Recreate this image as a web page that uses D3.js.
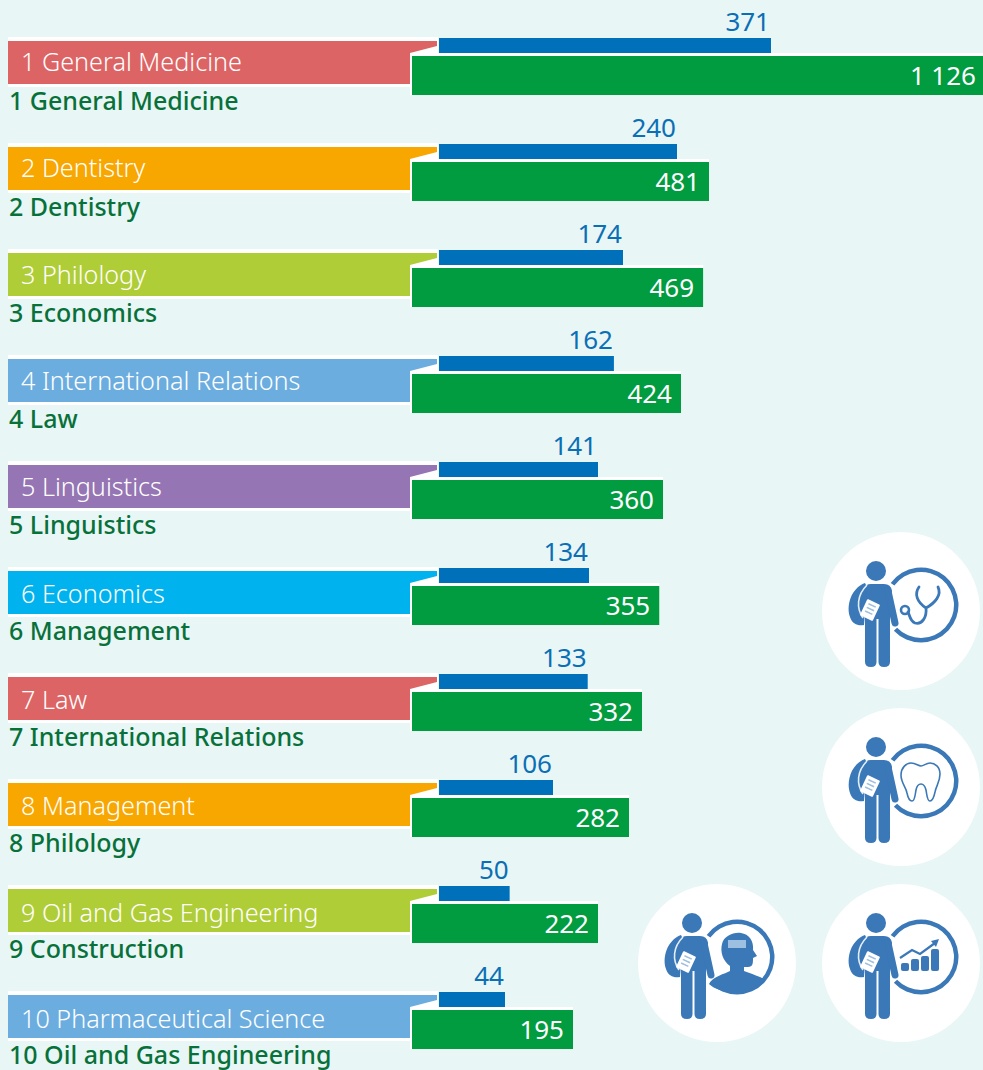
<!DOCTYPE html>
<html>
<head>
<meta charset="utf-8">
<script src="https://cdn.jsdelivr.net/npm/d3@7"></script>
<style>
  html, body { margin: 0; padding: 0; background: #e9f6f6; overflow: hidden; }
  text { font-family: "Noto Sans", sans-serif; }
</style>
</head>
<body>
<div id="chart"></div>
<script>
const width = 983, height = 1070;

// chart data
const ranks = [1, 2, 3, 4, 5, 6, 7, 8, 9, 10];
const bannerFields = ["General Medicine", "Dentistry", "Philology", "International Relations", "Linguistics",
    "Economics", "Law", "Management", "Oil and Gas Engineering", "Pharmaceutical Science"];
const greenFields = ["General Medicine", "Dentistry", "Economics", "Law", "Linguistics",
    "Management", "International Relations", "Philology", "Construction", "Oil and Gas Engineering"];
const blueValues = [371, 240, 174, 162, 141, 134, 133, 106, 50, 44];
const greenValues = [1126, 481, 469, 424, 360, 355, 332, 282, 222, 195];
const bannerPalette = ["#dd6464", "#f8a600", "#afcd36", "#6cade0", "#9575b3", "#00b3ee"];

const svg = d3.select("#chart").append("svg")
    .attr("width", width)
    .attr("height", height)
    .style("display", "block");

svg.append("rect").attr("width", width).attr("height", height).attr("fill", "#e9f6f6");

// the bars in the original are not to a single linear scale, so both scales have knots
const xBlue = d3.scaleLinear()
    .domain([44, 106, 141, 174, 240, 371])
    .range([505, 553, 598, 623, 677, 771]);
const xGreen = d3.scaleLinear()
    .domain([195, 222, 282, 332, 360, 424, 481, 1126])
    .range([573, 598, 629, 642, 663, 681, 709, 985]);
const yRow = d3.scalePoint().domain(ranks).range([41, 995]);
// banner text sits on a slightly wider pitch than the bars
const yBannerText = d3.scalePoint().domain(ranks).range([30, 33]);
const color = d3.scaleOrdinal().domain(ranks).range(bannerPalette);

const spaced = d3.formatLocale({ thousands: "\u2005", grouping: [3], decimal: ".", currency: ["", ""] }).format(",");

const defs = svg.append("defs");
defs.append("filter").attr("id", "soft")
    .append("feGaussianBlur").attr("stdDeviation", 0.6);

const rows = svg.selectAll("g.row")
    .data(ranks.map((r, i) => ({
        rank: r, banner: bannerFields[i], green: greenFields[i], blue: blueValues[i], greenValue: greenValues[i]
    })))
    .enter().append("g")
    .attr("class", "row")
    .attr("transform", d => `translate(0,${yRow(d.rank)})`);

// white backing behind banner and green bar
rows.append("path")
    .attr("fill", "#fff")
    .attr("d", d => `M8,-4H438V12H${Math.min(xGreen(d.greenValue), width)}V15H412V54H410V46H8Z`);

rows.append("path")
    .attr("fill", d => color(d.rank))
    .attr("d", "M8,0H437V5L410,12V43H8Z");

rows.append("rect")
    .attr("x", 439).attr("y", -3)
    .attr("width", d => xBlue(d.blue) - 439).attr("height", 15)
    .attr("fill", "#0070bb");

rows.append("rect")
    .attr("x", 412).attr("y", 15)
    .attr("width", d => xGreen(d.greenValue) - 412).attr("height", 39)
    .attr("fill", "#009c3f");

rows.append("text")
    .attr("x", 21).attr("y", d => yBannerText(d.rank))
    .attr("fill", "#fff")
    .style("font-size", "25.2px")
    .style("font-weight", 300)
    .text(d => `${d.rank} ${d.banner}`);

rows.append("text")
    .attr("x", 9).attr("y", 69)
    .attr("fill", "#08713a")
    .style("font-size", "25px")
    .style("font-weight", 500)
    .text(d => `${d.rank} ${d.green}`);

rows.append("text")
    .attr("x", d => xBlue(d.blue) - 1).attr("y", -10)
    .attr("text-anchor", "end")
    .attr("fill", "#0a6fb5")
    .style("font-size", "26px")
    .text(d => d.blue);

rows.append("text")
    .attr("x", d => xGreen(d.greenValue) - 9).attr("y", 44)
    .attr("text-anchor", "end")
    .attr("fill", "#fff")
    .style("font-size", "26px")
    .text(d => spaced(d.greenValue));

// icons
const iconBlue = "#3a78b8";

function drawFigure(g) {
    const f = g.append("g").attr("filter", "url(#soft)");
    f.append("circle").attr("cx", -25).attr("cy", -40).attr("r", 10).attr("fill", iconBlue);
    f.append("path").attr("fill", iconBlue)
        .attr("d", "M-36,-22Q-36,-27 -30,-27H-17Q-10,-27 -9,-20L-11,8V51Q-11,56 -17,56Q-22.5,56 -22.5,51V8H-24.5V51Q-24.5,56 -30,56Q-36,56 -36,51Z");
    f.append("path").attr("fill", "none").attr("stroke", iconBlue).attr("stroke-width", 7)
        .attr("stroke-linecap", "round").attr("d", "M-13,-20L-6,12");
    // backpack side
    f.append("path").attr("fill", iconBlue)
        .attr("d", "M-36,-28C-50,-23 -55,-5 -51,6C-49,13 -43,15 -37,14L-34,-24Z");
    f.append("path").attr("fill", "none").attr("stroke", "#e4eef7").attr("stroke-width", 1.6)
        .attr("d", "M-34,-26C-44,-16 -45,-3 -38,7");
    // clipboard
    f.append("rect").attr("x", -38).attr("y", -10).attr("width", 14).attr("height", 18).attr("rx", 1)
        .attr("transform", "rotate(25,-31,-1)").attr("fill", "#fff");
    f.append("path").attr("fill", "none").attr("stroke", "#9dbfe0").attr("stroke-width", 1.5)
        .attr("transform", "rotate(25,-31,-1)")
        .attr("d", "M-35,-6H-27M-35,-2H-27M-35,2H-27");
    return f;
}

function drawRing(f) {
    const ring = f.append("g").attr("transform", "translate(20,-6)");
    ring.append("path").attr("fill", iconBlue)
        .attr("d", d3.arc().innerRadius(33).outerRadius(37.5)
            .startAngle(-0.94).endAngle(Math.PI + 0.81));
    return ring;
}

const glyphs = {
    stethoscope(ring) {
        ring.append("path").attr("fill", "none").attr("stroke", iconBlue).attr("stroke-width", 2.8)
            .attr("stroke-linecap", "round")
            .attr("d", "M-2,-18C-7,-11 -4,-3 5,3C14,-2 21,-10 17,-18M5,3C6,12 1,20 -6,18C-11,16 -11,11 -13,7");
        ring.append("circle").attr("cx", -16).attr("cy", 5).attr("r", 4)
            .attr("fill", "none").attr("stroke", iconBlue).attr("stroke-width", 2.6);
    },
    tooth(ring) {
        ring.append("path").attr("fill", "#fff").attr("stroke", iconBlue).attr("stroke-width", 1.6)
            .attr("d", "M-10,-18C-15,-18 -20,-13 -20,-6C-20,2 -15,6 -14,12C-13,17 -12,20 -9,20C-6,20 -6,14 -5,9C-4,4 -2,3 0,3C2,3 4,5 5,9C6,14 6,20 9,20C12,20 13,16 14,11C15,5 19,1 19,-7C19,-14 14,-18 9,-18C5,-18 3,-15 0,-15C-3,-15 -5,-18 -10,-18Z");
    },
    head(ring) {
        ring.append("path").attr("fill", iconBlue)
            .attr("d", "M-28,27C-24,19 -12,17 -7,14L-7,9C-14,4 -17,-5 -15,-13C-13,-21 -4,-25 4,-24C12,-23 17,-16 16,-7L20,-1L16,1C16,6 16,10 11,10L7,10V14C14,17 23,19 28,23C18,37 -16,39 -28,27Z");
        ring.append("rect").attr("x", -9).attr("y", -17).attr("width", 18).attr("height", 8)
            .attr("fill", "#9dbfe0");
    },
    chart(ring) {
        ring.selectAll("rect.b").data([[-20, 8], [-10, 12], [0, 15], [10, 22]]).enter().append("rect")
            .attr("x", d => d[0]).attr("y", d => 14 - d[1])
            .attr("width", 8).attr("height", d => d[1]).attr("rx", 2)
            .attr("fill", iconBlue);
        ring.append("path").attr("fill", "none").attr("stroke", iconBlue).attr("stroke-width", 2.2)
            .attr("d", "M-21,1L-9,-7L-1,-3L14,-14");
        ring.append("path").attr("fill", iconBlue).attr("d", "M18,-18L10,-16L15,-10Z");
    }
};

const iconSpots = [
    { cx: 901, cy: 611, glyph: "stethoscope" },
    { cx: 901, cy: 787, glyph: "tooth" },
    { cx: 717, cy: 963, glyph: "head" },
    { cx: 901, cy: 963, glyph: "chart" }
];

iconSpots.forEach(s => {
    const g = svg.append("g").attr("transform", `translate(${s.cx},${s.cy})`);
    g.append("circle").attr("r", 79).attr("fill", "#fff");
    const f = drawFigure(g);
    const ring = drawRing(f);
    glyphs[s.glyph](ring);
});
</script>
</body>
</html>
